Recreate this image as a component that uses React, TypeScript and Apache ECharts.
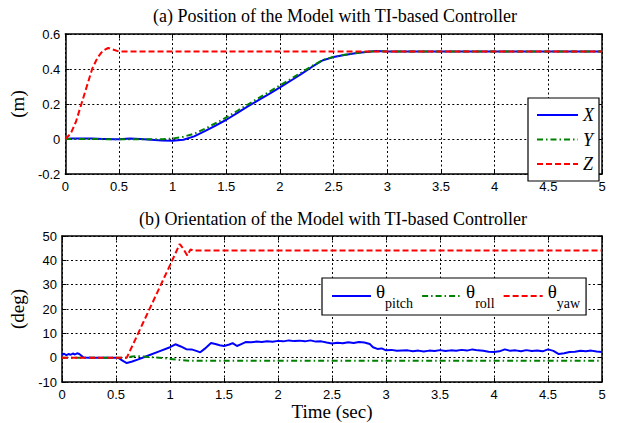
import React, { useEffect, useRef } from 'react';
import * as echarts from 'echarts';

// ---------- (a) Position data ----------
const xyT = [0, 0.05, 0.1, 0.15, 0.2, 0.25, 0.3, 0.35, 0.4, 0.45, 0.5, 0.6, 0.7, 0.8, 0.9, 1.0, 1.1, 1.2, 1.3, 1.4, 1.5, 1.6, 1.7, 1.8, 1.9, 2.0, 2.1, 2.2, 2.3, 2.4, 2.5, 2.6, 2.7, 2.8, 2.9, 3.0, 5.0];
const posX = [0, 0.003, 0.003, 0.003, 0.003, 0.003, 0.002, 0, 0, -0.002, -0.002, 0.003, 0, -0.004, -0.009, -0.01, -0.004, 0.015, 0.045, 0.077, 0.11, 0.148, 0.186, 0.222, 0.258, 0.295, 0.333, 0.372, 0.413, 0.45, 0.468, 0.48, 0.49, 0.497, 0.503, 0.5, 0.5];
const posY = [0, 0, 0, 0, 0, 0, 0, -0.001, -0.001, -0.002, -0.002, -0.001, -0.002, -0.002, -0.002, 0.003, 0.013, 0.03, 0.058, 0.09, 0.123, 0.16, 0.197, 0.234, 0.27, 0.306, 0.343, 0.38, 0.418, 0.452, 0.47, 0.481, 0.49, 0.497, 0.503, 0.5, 0.5];
const zT = [0, 0.05, 0.1, 0.15, 0.2, 0.25, 0.3, 0.35, 0.4, 0.45, 0.5, 5.0];
const posZ = [0, 0.03, 0.1, 0.2, 0.3, 0.4, 0.465, 0.505, 0.52, 0.51, 0.5, 0.5];

// ---------- (b) Orientation data ----------
const pitchT = [0, 0.02, 0.04, 0.06, 0.08, 0.1, 0.12, 0.14, 0.16, 0.18, 0.2, 0.25, 0.5, 0.53, 0.56, 0.6, 0.65, 0.7, 0.8, 0.9, 1.0, 1.05, 1.1, 1.15, 1.2, 1.25, 1.28, 1.32, 1.38, 1.42, 1.46, 1.5, 1.55, 1.58, 1.62, 1.66, 1.7, 1.75, 1.8, 1.85, 1.9, 1.95, 2.0, 2.05, 2.1, 2.15, 2.2, 2.25, 2.3, 2.35, 2.4, 2.45, 2.5, 2.55, 2.6, 2.65, 2.7, 2.75, 2.8, 2.85, 2.88, 2.92, 2.96, 3.0, 3.05, 3.1, 3.2, 3.25, 3.3, 3.35, 3.4, 3.45, 3.5, 3.55, 3.6, 3.65, 3.7, 3.75, 3.8, 3.85, 3.9, 3.95, 4.0, 4.05, 4.1, 4.15, 4.2, 4.25, 4.3, 4.35, 4.4, 4.45, 4.5, 4.55, 4.6, 4.65, 4.7, 4.75, 4.8, 4.85, 4.9, 4.95, 5.0];
const pitchV = [1.2, 1.6, 1.0, 1.5, 1.2, 1.7, 1.3, 1.8, 1.5, 0.8, 0.1, 0, 0, -0.3, -1.2, -2.2, -1.6, -0.8, 0.9, 2.6, 4.3, 5.5, 4.6, 3.5, 3.4, 2.7, 2.2, 3.6, 6.0, 5.6, 5.1, 4.8, 5.4, 6.0, 4.8, 5.6, 6.4, 6.3, 6.6, 6.4, 6.7, 6.5, 6.9, 6.7, 7.1, 6.8, 7.0, 6.7, 7.1, 6.6, 6.7, 6.2, 5.8, 6.1, 5.9, 6.3, 6.0, 6.4, 6.2, 5.6, 4.3, 3.6, 3.8, 3.0, 3.2, 2.8, 3.0, 2.6, 2.9, 2.5, 2.9, 2.7, 3.1, 2.7, 3.0, 2.8, 3.2, 2.9, 3.4, 3.0, 2.8, 2.4, 2.3, 2.6, 3.4, 2.8, 3.0, 2.6, 3.1, 2.7, 2.9, 2.6, 3.4, 2.8, 1.5, 1.8, 2.3, 2.4, 2.8, 2.6, 2.9, 2.5, 2.3];
const rollT = [0, 0.6, 0.65, 0.7, 0.8, 0.9, 1.0, 1.1, 1.2, 1.3, 5.0];
const rollV = [0, 0, 0.5, 0.6, 0.3, 0, -0.5, -1.0, -1.3, -1.3, -1.3];
const yawT = [0, 0.6, 0.7, 0.8, 0.9, 1.0, 1.09, 1.12, 1.16, 1.19, 1.22, 5.0];
const yawV = [0, 0, 9.5, 19, 28.5, 38, 46.7, 45, 42, 44.5, 44, 44];

const xTickMin = 0, xTickMax = 5, xTickStep = 0.5;
const posMin = -0.2, posMax = 0.6, posStep = 0.2;
const degMin = -10, degMax = 50, degStep = 10;

const titleA = '(a) Position of the Model with TI-based Controller';
const titleB = '(b) Orientation of the Model with TI-based Controller';
const nameA = '(m)';
const nameB = '(deg)';
const nameX = 'Time (sec)';

const zip = (t: number[], v: number[]) => t.map((x, i) => [x, v[i]]);

export default function App() {
  const ref = useRef<HTMLDivElement>(null);
  useEffect(() => {
    const chart = echarts.init(ref.current!, null, { renderer: 'svg' });
    const serif = '"Liberation Serif", "Times New Roman", serif';
    const sans = '"Liberation Sans", Arial, sans-serif';
    const black = '#000';
    const fmt = (v: number) => String(+v.toFixed(1));
    const gridLine = { show: true, lineStyle: { color: black, type: [2, 2.5], width: 1 } };
    const axLine = { show: true, onZero: false, lineStyle: { color: black, width: 1.5 } };
    const tick = { show: true, inside: true, length: 4, lineStyle: { color: black, width: 1 } };
    const lbl = { color: black, fontFamily: sans, fontSize: 13, formatter: fmt };

    const mainX = (gi: number, name?: string) => ({
      type: 'value', gridIndex: gi, min: xTickMin, max: xTickMax, interval: xTickStep,
      axisLine: axLine, axisTick: tick, axisLabel: { ...lbl, margin: 6 }, splitLine: gridLine,
      name: name || '', nameLocation: 'middle', nameGap: 19,
      nameTextStyle: { fontFamily: serif, fontSize: 19, color: black },
    });
    const topX = (gi: number) => ({
      type: 'value', gridIndex: gi, position: 'top', min: xTickMin, max: xTickMax, interval: xTickStep,
      axisLine: axLine, axisTick: tick, axisLabel: { show: false }, splitLine: { show: false },
    });
    const mainY = (gi: number, min: number, max: number, step: number, name: string) => ({
      type: 'value', gridIndex: gi, min, max, interval: step,
      axisLine: axLine, axisTick: tick, axisLabel: { ...lbl, margin: 5 }, splitLine: gridLine,
      name, nameLocation: 'middle', nameGap: 35,
      nameTextStyle: { fontFamily: serif, fontSize: 19, color: black },
    });
    const rightY = (gi: number, min: number, max: number, step: number) => ({
      type: 'value', gridIndex: gi, position: 'right', min, max, interval: step,
      axisLine: axLine, axisTick: tick, axisLabel: { show: false }, splitLine: { show: false },
    });
    const line = (name: string, data: number[][], color: string, type: any, xi: number, yi: number) => ({
      name, type: 'line', data, xAxisIndex: xi, yAxisIndex: yi, symbol: 'none', showSymbol: false,
      lineStyle: { color, width: 2, type }, itemStyle: { color }, z: 3,
    });

    chart.setOption({
      animation: false,
      backgroundColor: '#fff',
      title: [
        { text: titleA, left: 148, top: 2, textStyle: { fontFamily: serif, fontSize: 18, fontWeight: 'normal', color: black } },
        { text: titleB, left: 134, top: 205, textStyle: { fontFamily: serif, fontSize: 18, fontWeight: 'normal', color: black } },
      ],
      grid: [
        { left: 62, right: 19, top: 34, height: 140 },
        { left: 62, right: 19, top: 236, height: 146 },
      ],
      xAxis: [mainX(0), topX(0), mainX(1, nameX), topX(1)],
      yAxis: [
        mainY(0, posMin, posMax, posStep, nameA), rightY(0, posMin, posMax, posStep),
        mainY(1, degMin, degMax, degStep, nameB), rightY(1, degMin, degMax, degStep),
      ],
      legend: [
        {
          data: ['X', 'Y', 'Z'], orient: 'vertical', left: 528, top: 98,
          padding: [8, 5, 8, 8], itemGap: 6.5, itemWidth: 41, itemHeight: 14,
          borderColor: black, borderWidth: 1.2, backgroundColor: '#fff',
          itemStyle: { opacity: 0 },
          textStyle: { fontFamily: serif, fontStyle: 'italic', fontSize: 18, color: black },
        },
        {
          data: ['θpitch', 'θroll', 'θyaw'], orient: 'horizontal', left: 322, top: 278,
          padding: [4, 6, 5, 9], itemGap: 8, itemWidth: 39, itemHeight: 14,
          borderColor: black, borderWidth: 1.2, backgroundColor: '#fff',
          itemStyle: { opacity: 0 },
          formatter: (n: string) => `{t|θ}{s|${n.slice(1)}}`,
          textStyle: {
            color: black,
            rich: {
              t: { fontFamily: serif, fontSize: 19, color: black, verticalAlign: 'top' },
              s: { fontFamily: serif, fontSize: 14, color: black, lineHeight: 28, verticalAlign: 'bottom' },
            },
          },
        },
      ],
      series: [
        line('X', zip(xyT, posX), '#0000ff', 'solid', 0, 0),
        line('Y', zip(xyT, posY), '#008000', [6, 3, 1.5, 3], 0, 0),
        line('Z', zip(zT, posZ), '#ff0000', [6, 3], 0, 0),
        line('θpitch', zip(pitchT, pitchV), '#0000ff', 'solid', 2, 2),
        line('θroll', zip(rollT, rollV), '#008000', [6, 3, 1.5, 3], 2, 2),
        line('θyaw', zip(yawT, yawV), '#ff0000', [6, 3], 2, 2),
      ],
    });
    return () => chart.dispose();
  }, []);
  return <div ref={ref} style={{ position: 'fixed', left: 0, top: 0, width: 621, height: 423, background: '#fff' }} />;
}
